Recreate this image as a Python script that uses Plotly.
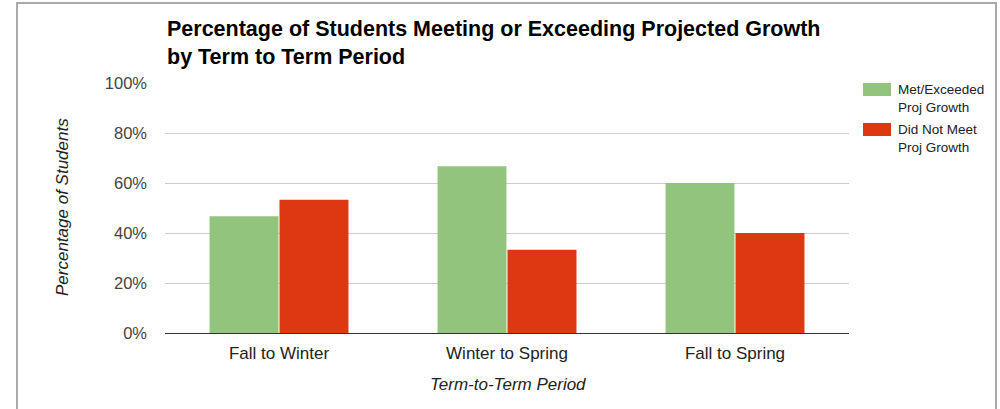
import plotly.graph_objects as go

categories = ["Fall to Winter", "Winter to Spring", "Fall to Spring"]
met_exceeded = [46.7, 66.7, 60.0]
did_not_meet = [53.3, 33.3, 40.0]
series_names = ["Met/Exceeded<br>Proj Growth", "Did Not Meet<br>Proj Growth"]
series_colors = ["#93c47d", "#dc3912"]
y_ticks = [0, 20, 40, 60, 80, 100]
y_ticktext = [f"{v}%" for v in y_ticks]

W, H = 1000, 409
L, R, T, B = 165, 151, 83, 76
pw, ph = W - L - R, H - T - B

def px_x(x):
    return (x - L) / pw

def px_y(y):
    return (H - B - y) / ph

FONT = "Liberation Sans, Arial, sans-serif"

fig = go.Figure()
for name, vals, col in zip(series_names, [met_exceeded, did_not_meet], series_colors):
    fig.add_trace(go.Bar(x=categories, y=vals, name=name, marker_color=col,
                         marker_line_width=0, showlegend=False, hoverinfo="skip"))

fig.update_layout(
    width=W, height=H,
    margin=dict(l=L, r=R, t=T, b=B, pad=0),
    paper_bgcolor="white", plot_bgcolor="white",
    barmode="group", bargap=0.386, bargroupgap=0.015,
    font=dict(family=FONT, color="#222222"),
    xaxis=dict(showgrid=False, tickfont=dict(size=17, color="#222222"),
               ticks="", showline=False, ticklabelstandoff=8),
    yaxis=dict(range=[0, 100], tickvals=y_ticks, ticktext=y_ticktext,
               showgrid=True, gridcolor="#cccccc", gridwidth=1,
               zeroline=True, zerolinecolor="#333333", zerolinewidth=1,
               tickfont=dict(size=16.5, color="#444444"),
               ticklabelstandoff=17, showline=False),
)

# title
fig.add_annotation(text="<b>Percentage of Students Meeting or Exceeding Projected Growth<br>by Term to Term Period</b>",
                   xref="paper", yref="paper", x=0, y=px_y(15), xanchor="left", yanchor="top",
                   align="left", showarrow=False, font=dict(size=21.5, color="#000000", family=FONT))
# axis titles
fig.add_annotation(text="<i>Percentage of Students</i>", xref="paper", yref="paper",
                   x=px_x(62), y=px_y(207), xanchor="center", yanchor="middle",
                   textangle=-90, showarrow=False,
                   font=dict(size=17, color="#222222"))
fig.add_annotation(text="<i>Term-to-Term Period</i>", xref="paper", yref="paper",
                   x=px_x(508), y=px_y(384), xanchor="center", yanchor="middle",
                   showarrow=False, font=dict(size=17, color="#222222"))

# legend (manual)
leg_top = [83, 123]
for name, col, top in zip(series_names, series_colors, leg_top):
    fig.add_shape(type="rect", xref="paper", yref="paper",
                  x0=px_x(863), x1=px_x(891), y0=px_y(top), y1=px_y(top + 13),
                  fillcolor=col, line_width=0)
    lines = name.split("<br>")
    for i, ln in enumerate(lines):
        fig.add_annotation(text=ln, xref="paper", yref="paper",
                           x=px_x(896), y=px_y(top + 6 + 18 * i), xanchor="left", yanchor="middle",
                           showarrow=False, font=dict(size=13.5, color="#222222"))

# frame
fig.add_shape(type="rect", xref="paper", yref="paper",
              x0=px_x(17), x1=px_x(996), y0=px_y(3), y1=px_y(420),
              line=dict(color="#aaaaaa", width=2), fillcolor="rgba(0,0,0,0)")

fig.write_html("out.html", config={"displayModeBar": False},
               post_script="document.body.style.margin='0';")
